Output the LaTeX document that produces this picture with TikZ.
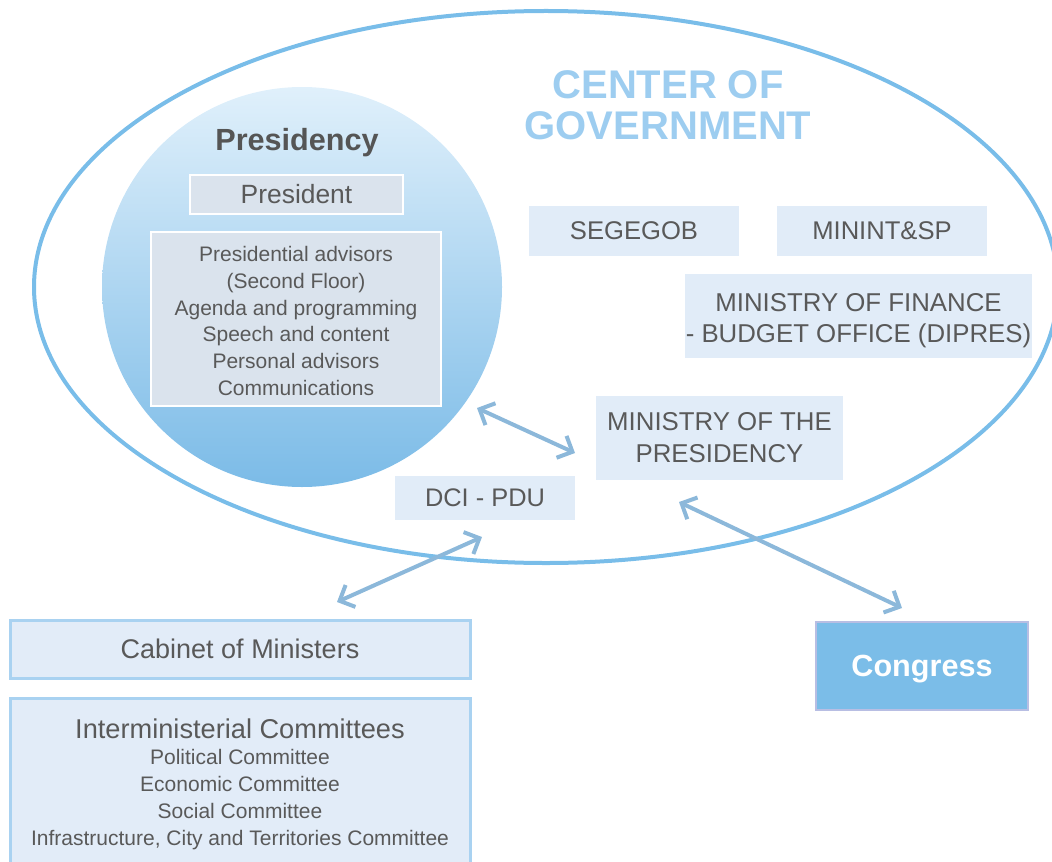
\documentclass[tikz,border=0pt]{standalone}
\usepackage{fontspec}
\setmainfont{Liberation Sans}
\usetikzlibrary{arrows.meta}
\definecolor{txt}{HTML}{595959}
\definecolor{ellc}{HTML}{79BDE9}
\definecolor{circtop}{HTML}{E0F0FB}
\definecolor{circbot}{HTML}{7BBBE7}
\definecolor{innerbox}{HTML}{DAE3ED}
\definecolor{cogbox}{HTML}{E1ECF8}
\definecolor{cabfill}{HTML}{E2ECF8}
\definecolor{cabdraw}{HTML}{A9D2F1}
\definecolor{congfill}{HTML}{7BBDE8}
\definecolor{congdraw}{HTML}{B8BEE3}
\definecolor{cogtitle}{HTML}{9DCDF0}
\definecolor{presc}{HTML}{555555}
\definecolor{arrc}{HTML}{8CB8DA}
\begin{document}
\begin{tikzpicture}[x=0.5pt,y=-0.5pt,
  every node/.style={inner sep=0pt, text=txt},
  innerb/.style={fill=innerbox, draw=white, line width=1pt, align=center},
  cogb/.style={fill=cogbox, align=center, font=\fontsize{12.8}{16}\selectfont},
  cabb/.style={fill=cabfill, draw=cabdraw, line width=1.5pt},
  link/.style={draw=arrc, line width=2pt, {Straight Barb[length=6pt,width=12pt]}-{Straight Barb[length=6pt,width=12pt]}}
]
\useasboundingbox (0,0) rectangle (1052,861);
% Center of government ellipse
\draw[ellc, line width=2pt] (546,287) ellipse [x radius=256pt, y radius=138pt];
\node[font=\bfseries\fontsize{20}{20.5}\selectfont, text=cogtitle, align=center] (cogt) at (668,105.5) {CENTER OF\\GOVERNMENT};
% Presidency circle
\node[circle, minimum size=200pt, top color=circtop, bottom color=circbot, draw=none] (pres) at (302,287) {};
\node[font=\bfseries\fontsize{15.3}{18}\selectfont, text=presc] (prest) at (297,143) {Presidency};
\node[innerb, minimum width=106.5pt, minimum height=19.5pt, font=\fontsize{13.2}{16}\selectfont] (president) at (296.5,194.5) {President};
\node[innerb, minimum width=145pt, minimum height=87pt, font=\fontsize{10.5}{13.35}\selectfont] (adv) at (296,319) {\rule{0pt}{9.7pt}Presidential advisors\\(Second Floor)\\Agenda and programming\\Speech and content\\Personal advisors\\Communications};
% CoG boxes
\node[cogb, minimum width=105pt, minimum height=25pt] (segegob) at (634,231) {SEGEGOB};
\node[cogb, minimum width=105pt, minimum height=25pt] (minint) at (882,231) {MININT\&SP};
\node[cogb, minimum width=173.5pt, minimum height=42pt, font=\fontsize{12.9}{15.5}\selectfont] (finance) at (858.5,316) {\rule{0pt}{13.2pt}MINISTRY OF FINANCE\\- BUDGET OFFICE (DIPRES)};
\node[cogb, minimum width=123.5pt, minimum height=42pt, font=\fontsize{12.9}{16}\selectfont] (minpres) at (719.5,438) {MINISTRY OF THE\\PRESIDENCY};
\node[cogb, minimum width=90pt, minimum height=22pt, font=\fontsize{12.7}{15}\selectfont] (dci) at (485,498) {DCI - PDU};
% Bottom boxes
\node[cabb, minimum width=230pt, minimum height=29pt, font=\fontsize{13.5}{16}\selectfont] (cabinet) at (240,649) {Cabinet of Ministers};
\node[cabb, minimum width=230pt, minimum height=88.5pt] (comm) at (240,786.5) {};
\node[anchor=north, align=center, font=\fontsize{10.5}{13.4}\selectfont] (commt) at (240,718) {{\fontsize{13.6}{14}\selectfont Interministerial Committees}\\Political Committee\\Economic Committee\\Social Committee\\Infrastructure, City and Territories Committee};
\node[fill=congfill, draw=congdraw, line width=1pt, minimum width=106pt, minimum height=44pt, font=\bfseries\fontsize{15.3}{18}\selectfont, text=white] (congress) at (922,666) {\rule{0pt}{14pt}Congress};
% Arrow ends
\coordinate (a1s) at (477,408);
\coordinate (a1e) at (575,453);
\coordinate (a2s) at (337,602);
\coordinate (a2e) at (482,537);
\coordinate (a3s) at (679,502);
\coordinate (a3e) at (902,608);
\draw[link] (a1s) -- (a1e);
\draw[link] (a2s) -- (a2e);
\draw[link] (a3s) -- (a3e);
\end{tikzpicture}
\end{document}
